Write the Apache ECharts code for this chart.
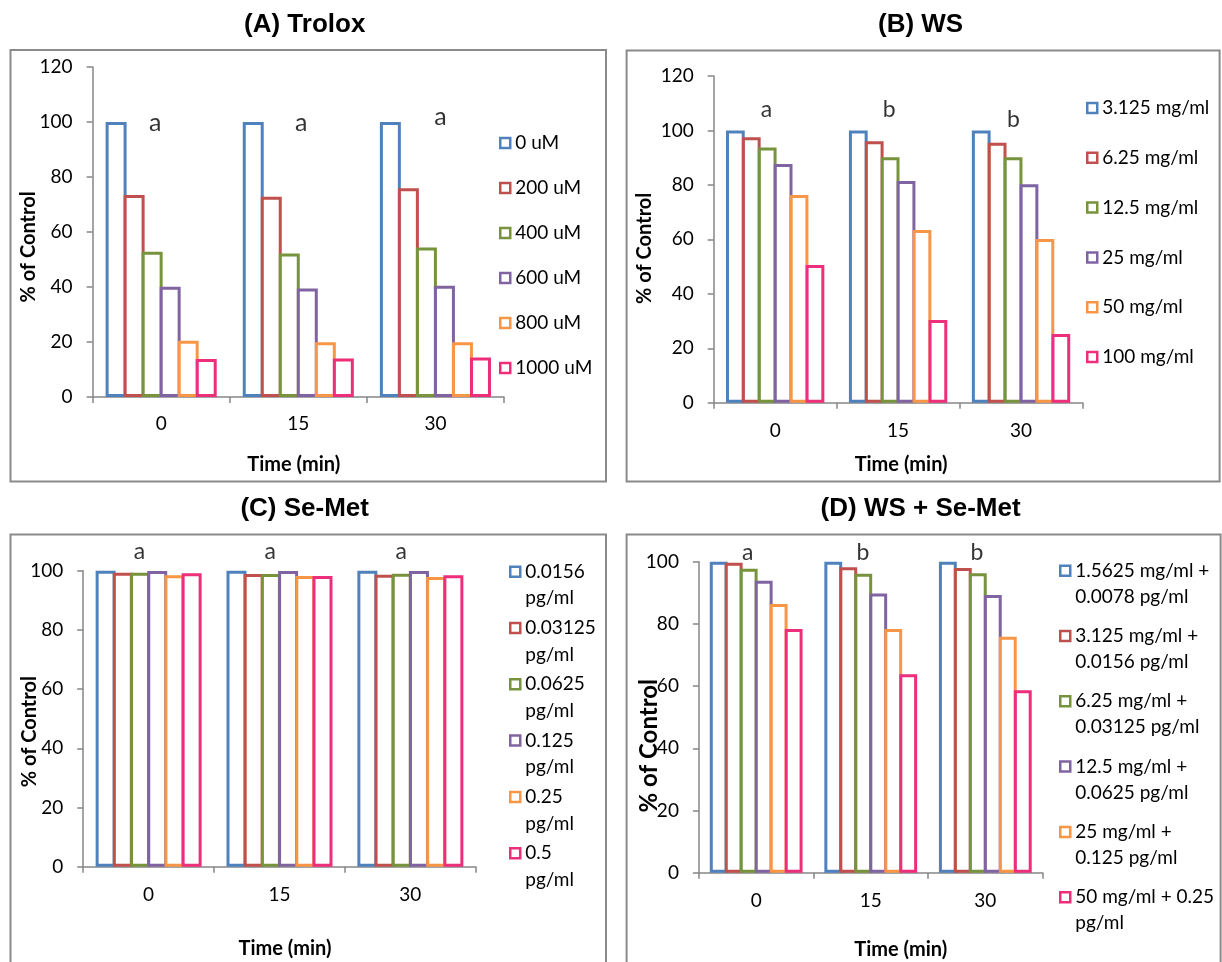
<!DOCTYPE html>
<html>
<head>
<meta charset="utf-8">
<script src="https://cdn.jsdelivr.net/npm/echarts@6/dist/echarts.min.js"></script>
<style>
html,body{margin:0;padding:0;background:#fff;}
#chart{width:1222px;height:962px;}
</style>
</head>
<body>
<div id="chart"></div>
<script>
// ---------- data ----------
const timeCategories = ['0', '15', '30'];

const troloxNames = ['0 uM', '200 uM', '400 uM', '600 uM', '800 uM', '1000 uM'];
const troloxValues = [
  [100, 100, 100],
  [73.5, 72.8, 75.9],
  [52.8, 52.2, 54.4],
  [40.1, 39.5, 40.5],
  [20.5, 19.9, 19.9],
  [13.8, 14.0, 14.4]
];
const troloxLetters = ['a', 'a', 'a'];
const troloxLetterY = [99.6, 99.6, 101.8];

const wsNames = ['3.125 mg/ml', '6.25 mg/ml', '12.5 mg/ml', '25 mg/ml', '50 mg/ml', '100 mg/ml'];
const wsValues = [
  [100, 100, 100],
  [97.5, 96.0, 95.5],
  [93.7, 90.2, 90.2],
  [87.7, 81.4, 80.2],
  [76.3, 63.4, 60.1],
  [50.6, 30.4, 25.2]
];
const wsLetters = ['a', 'b', 'b'];
const wsLetterY = [107.5, 107.5, 104];

const semetNames = ['0.0156 pg/ml', '0.03125 pg/ml', '0.0625 pg/ml', '0.125 pg/ml', '0.25 pg/ml', '0.5 pg/ml'];
const semetValues = [
  [100, 100, 100],
  [99.3, 98.9, 98.6],
  [99.3, 98.9, 99.0],
  [99.9, 99.9, 99.9],
  [98.5, 98.2, 97.9],
  [99.1, 98.2, 98.5]
];
const semetLetters = ['a', 'a', 'a'];
const semetLetterY = [106.3, 106.3, 106.3];

const comboNames = [
  '1.5625 mg/ml + 0.0078 pg/ml',
  '3.125 mg/ml + 0.0156 pg/ml',
  '6.25 mg/ml + 0.03125 pg/ml',
  '12.5 mg/ml + 0.0625 pg/ml',
  '25 mg/ml + 0.125 pg/ml',
  '50 mg/ml + 0.25 pg/ml'
];
const comboValues = [
  [100, 100, 100],
  [99.7, 98.2, 98.0],
  [97.7, 96.1, 96.3],
  [93.9, 89.8, 89.3],
  [86.4, 78.4, 75.9],
  [78.4, 63.8, 58.7]
];
const comboLetters = ['a', 'b', 'b'];
const comboLetterY = [103, 103, 103];

const panelTitles = ['(A) Trolox', '(B) WS', '(C) Se-Met', '(D) WS + Se-Met'];
const yAxisName = '% of Control';
const xAxisName = 'Time (min)';

// ---------- styling / layout ----------
const palette = ['#4F81BD', '#C0504D', '#77933C', '#8064A2', '#F79646', '#EC2E7B'];
const FONT = 'Lato';
const AXIS_COLOR = '#868686';
const BORDER_W = 3;

function wrapWords(name, maxChars) {
  const words = name.split(' ');
  const lines = [];
  let cur = '';
  words.forEach(w => {
    const cand = cur ? cur + ' ' + w : w;
    if (cand.length > maxChars && cur) { lines.push(cur); cur = w; }
    else cur = cand;
  });
  if (cur) lines.push(cur);
  return lines.join('\n');
}

const panels = [
  { names: troloxNames, values: troloxValues, letters: troloxLetters, letterY: troloxLetterY,
    grid: { left: 92.6, top: 67, width: 411.4, height: 330 }, yMax: 120,
    letterSize: 25, letterOffsets: [-6, 3, 5], barGap: '-14%', barCatGap: '19%',
    yNameGap: 54, yNamePad: [0, 30, 0, 0], yNameSize: 20,
    xNameGap: 58, xNamePad: [0, 9, 0, 0], xLabelMargin: 17,
    legend: { left: 499, top: 132, gap: 23, lh: 22, wrap: 0 } },
  { names: wsNames, values: wsValues, letters: wsLetters, letterY: wsLetterY,
    grid: { left: 713.7, top: 76, width: 368.8, height: 326.7 }, yMax: 120,
    letterSize: 23, letterOffsets: [-8.7, -8.8, -7.6], barGap: '-15%', barCatGap: '20%',
    yNameGap: 59, yNamePad: [0, 18, 0, 0], yNameSize: 20,
    xNameGap: 52.3, xNamePad: [0, 0, 0, 6], xLabelMargin: 19,
    legend: { left: 1086, top: 97, gap: 27.8, lh: 22, wrap: 0 } },
  { names: semetNames, values: semetValues, letters: semetLetters, letterY: semetLetterY,
    grid: { left: 83.2, top: 570.7, width: 392.6, height: 296 }, yMax: 100,
    letterSize: 23, letterOffsets: [-9.1, -9.2, -9.2], barGap: '-14%', barCatGap: '19%',
    yNameGap: 44, yNamePad: [0, 26, 0, 0], yNameSize: 20,
    xNameGap: 71.5, xNamePad: [0, 0, 0, 11], xLabelMargin: 19,
    legend: { left: 509, top: 531.8, gap: -23.5, lh: 26.6, wrap: 8 } },
  { names: comboNames, values: comboValues, letters: comboLetters, letterY: comboLetterY,
    grid: { left: 698.9, top: 561.7, width: 343.7, height: 311 }, yMax: 100,
    letterSize: 23, letterOffsets: [-8.5, -7.8, -8.4], barGap: '-16%', barCatGap: '19%',
    yNameGap: 38, yNamePad: [0, 57, 0, 0], yNameSize: 24,
    xNameGap: 67.3, xNamePad: [0, 0, 0, 60], xLabelMargin: 19,
    legend: { left: 1059, top: 531.7, gap: -12.7, lh: 26, wrap: 15 } }
];

const titlePos = [[304.7, 25], [920.6, 25], [304.7, 509], [920.6, 509]];
const boxes = [[10.5, 50, 595.5, 431.5], [626.6, 50.5, 593, 431], [10.5, 534.5, 595.5, 440], [626.6, 534.5, 594, 440]];

const grids = [], xAxes = [], yAxes = [], series = [], legends = [], graphics = [];

panels.forEach((p, i) => {
  grids.push(Object.assign({ containLabel: false }, p.grid));
  xAxes.push({
    type: 'category', gridIndex: i, data: timeCategories,
    axisLine: { show: true, lineStyle: { color: AXIS_COLOR, width: 1.5 } },
    axisTick: { show: true, length: 6, alignWithLabel: false, lineStyle: { color: AXIS_COLOR, width: 1.5 } },
    axisLabel: { color: '#000', fontFamily: FONT, fontSize: 19, margin: p.xLabelMargin },
    splitLine: { show: false },
    name: xAxisName, nameLocation: 'middle', nameGap: p.xNameGap, nameMoveOverlap: false,
    nameTextStyle: { color: '#000', fontFamily: FONT, fontWeight: 'bold', fontSize: 20, padding: p.xNamePad }
  });
  yAxes.push({
    type: 'value', gridIndex: i, min: 0, max: p.yMax, interval: 20,
    axisLine: { show: true, lineStyle: { color: AXIS_COLOR, width: 1.5 } },
    axisTick: { show: true, length: 6, lineStyle: { color: AXIS_COLOR, width: 1.5 } },
    axisLabel: { color: '#000', fontFamily: FONT, fontSize: 19, margin: 20 },
    splitLine: { show: false },
    name: yAxisName, nameLocation: 'middle', nameGap: p.yNameGap, nameMoveOverlap: false,
    nameTextStyle: { color: '#000', fontFamily: FONT, fontWeight: 'bold', fontSize: p.yNameSize, padding: p.yNamePad }
  });
  p.names.forEach((nm, k) => {
    series.push({
      type: 'bar', name: nm, xAxisIndex: i, yAxisIndex: i,
      data: p.values[k],
      barGap: p.barGap, barCategoryGap: p.barCatGap,
      itemStyle: { color: '#ffffff', borderColor: palette[k], borderWidth: BORDER_W },
      emphasis: { disabled: true },
      animation: false
    });
  });
  series.push({
    type: 'scatter', name: 'letters' + i, xAxisIndex: i, yAxisIndex: i,
    symbolSize: 0, clip: false, silent: true, z: 5, animation: false,
    data: p.letters.map((l, j) => ({
      name: l, value: [j, p.letterY[j]],
      label: { offset: [p.letterOffsets[j], 0] }
    })),
    label: { show: true, position: 'inside', formatter: '{b}', color: '#000',
             fontFamily: FONT, fontSize: p.letterSize }
  });
  const L = p.legend;
  legends.push({
    orient: 'vertical', left: L.left, top: L.top, padding: 0,
    itemWidth: 10, itemHeight: 10, itemGap: L.gap, icon: 'rect',
    selectedMode: false,
    data: p.names,
    itemStyle: { borderWidth: 2.5 },
    formatter: L.wrap ? (n => '\n' + wrapWords(n, L.wrap)) : undefined,
    textStyle: { color: '#000', fontFamily: FONT, fontSize: 19, lineHeight: L.lh,
                 backgroundColor: 'rgba(255,255,255,0)' }
  });
  graphics.push({
    type: 'text', silent: true,
    style: { text: panelTitles[i], x: titlePos[i][0], y: titlePos[i][1],
             textAlign: 'center', textVerticalAlign: 'middle',
             font: 'bold 26px "Liberation Sans", Arial, sans-serif', fill: '#000' }
  });
  graphics.push({
    type: 'rect', silent: true, z: -10,
    shape: { x: boxes[i][0], y: boxes[i][1], width: boxes[i][2], height: boxes[i][3] },
    style: { fill: 'none', stroke: '#8a8a8a', lineWidth: 2 }
  });
});

const chart = echarts.init(document.getElementById('chart'), null, { renderer: 'canvas' });
chart.setOption({
  animation: false,
  backgroundColor: '#fff',
  grid: grids,
  xAxis: xAxes,
  yAxis: yAxes,
  legend: legends,
  series: series,
  graphic: graphics
});
</script>
</body>
</html>
